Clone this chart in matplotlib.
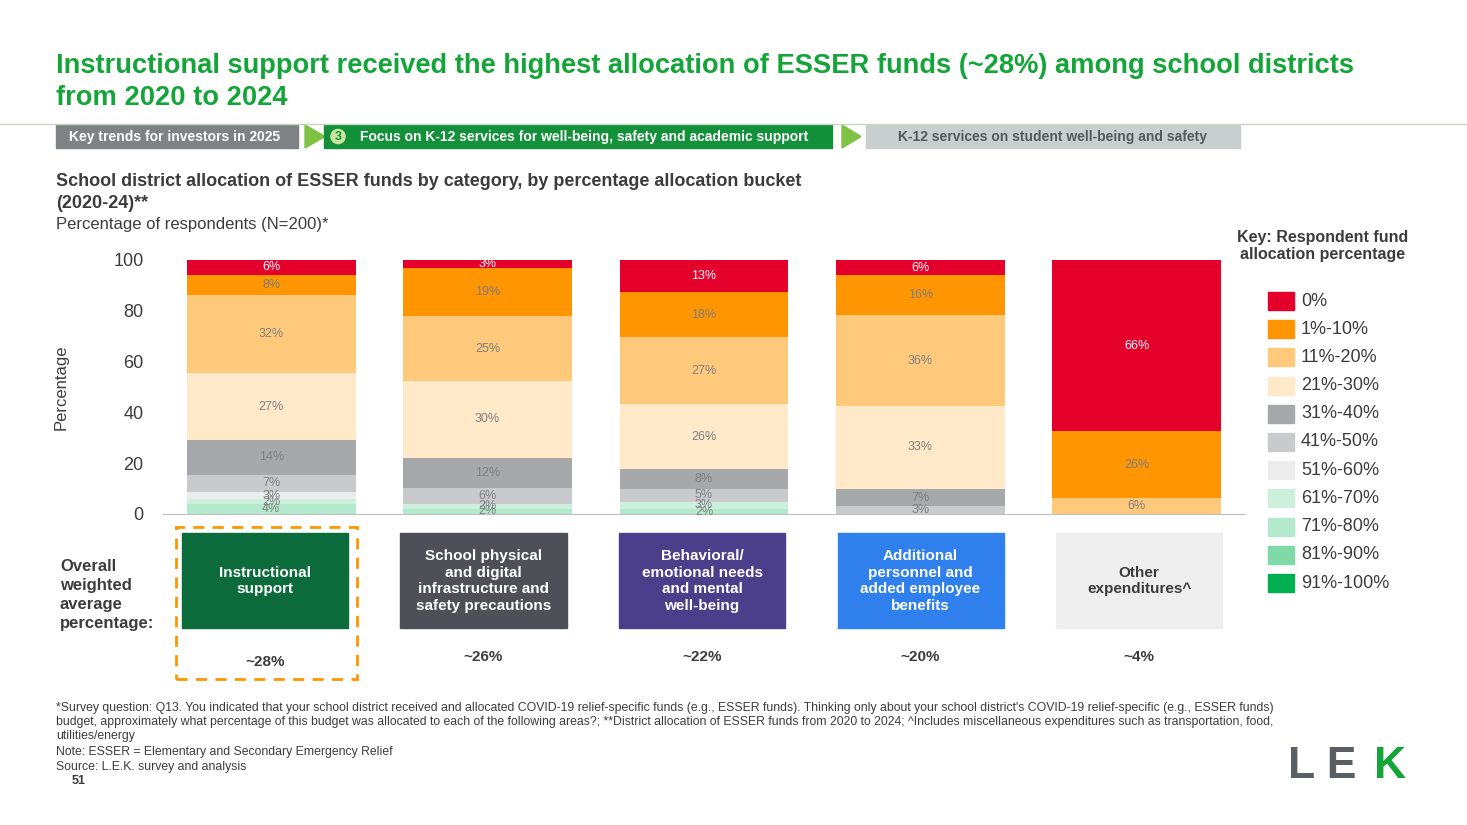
import numpy as np
import matplotlib.pyplot as plt
from matplotlib.patches import Rectangle, Polygon

W, H = 1467, 825

categories = ["Instructional\nsupport", "School physical\nand digital\ninfrastructure and\nsafety precautions",
              "Behavioral/\nemotional needs\nand mental\nwell-being", "Additional\npersonnel and\nadded employee\nbenefits",
              "Other\nexpenditures^"]
weighted_avg = ["~28%", "~26%", "~22%", "~20%", "~4%"]
buckets = ["0%", "1%-10%", "11%-20%", "21%-30%", "31%-40%", "41%-50%", "51%-60%",
           "61%-70%", "71%-80%", "81%-90%", "91%-100%"]
# values per bucket (rows follow buckets), columns follow categories
vals_0 = [6, 3, 13, 6, 66]
vals_1_10 = [8, 19, 18, 16, 26]
vals_11_20 = [32, 25, 27, 36, 6]
vals_21_30 = [27, 30, 26, 33, 0]
vals_31_40 = [14, 12, 8, 7, 0]
vals_41_50 = [7, 6, 5, 3, 0]
vals_51_60 = [3, 0, 0, 0, 0]
vals_61_70 = [2, 2, 3, 0, 0]
vals_71_80 = [4, 2, 2, 0, 0]
vals_81_90 = [0, 0, 0, 0, 0]
vals_91_100 = [0, 0, 0, 0, 0]
colors = ["#e4002b", "#ff9500", "#ffc97c", "#ffe9c9", "#a6a8aa", "#c9cacb", "#ececec",
          "#cdf0dc", "#b3e9cc", "#7fdaa8", "#00b050"]
box_colors = ["#0b6b3a", "#4d5157", "#4b3f8c", "#2f80ed", "#efefef"]

series = [vals_0, vals_1_10, vals_11_20, vals_21_30, vals_31_40, vals_41_50,
          vals_51_60, vals_61_70, vals_71_80, vals_81_90, vals_91_100]

fig = plt.figure(figsize=(W / 100, H / 100), dpi=100)
plt.rcParams['font.family'] = ['Liberation Sans', 'DejaVu Sans']


def fx(px):
    return px / W


def fy(py):
    return 1 - py / H


def ftext(px, py, s, **kw):
    fig.text(fx(px), fy(py), s, **kw)


def frect(x0, y0, x1, y1, **kw):
    fig.add_artist(Rectangle((fx(x0), fy(y1)), fx(x1 - x0), fy(y0) - fy(y1), **kw))


GREEN = "#13a538"
# title
ftext(56, 66, "Instructional support received the highest allocation of ESSER funds (~28%) among school districts",
      fontsize=19.6, weight="bold", color=GREEN, va="center")
ftext(56, 98, "from 2020 to 2024", fontsize=19.6, weight="bold", color=GREEN, va="center")
fig.add_artist(plt.Line2D([0, 1], [fy(124), fy(124)], color="#c5d6c0", lw=1))

# breadcrumb
frect(56, 125, 298, 148, color="#7f8284")
ftext(175, 136.5, "Key trends for investors in 2025", fontsize=10, weight="bold", color="white", ha="center", va="center")
fig.add_artist(Polygon([(fx(305), fy(125)), (fx(325), fy(136.5)), (fx(305), fy(148))], color="#7dc242"))
frect(324, 125, 832, 148, color="#13913a")
ftext(338, 136.5, "3", fontsize=9, weight="bold", color="#13913a", ha="center", va="center",
      bbox=dict(boxstyle="circle,pad=0.2", fc="#c8e6a0", ec="#13913a"))
ftext(584, 136.5, "Focus on K-12 services for well-being, safety and academic support", fontsize=10, weight="bold",
      color="white", ha="center", va="center")
fig.add_artist(Polygon([(fx(842), fy(125)), (fx(861), fy(136.5)), (fx(842), fy(148))], color="#7dc242"))
frect(866, 125, 1240, 148, color="#c9cfce")
ftext(1053, 136.5, "K-12 services on student well-being and safety", fontsize=10, weight="bold",
      color="#55595c", ha="center", va="center")

# subtitle
ftext(56, 182, "School district allocation of ESSER funds by category, by percentage allocation bucket",
      fontsize=13, weight="bold", color="#3c3c3c", va="center")
ftext(56, 203, "(2020-24)**", fontsize=13, weight="bold", color="#3c3c3c", va="center")
ftext(56, 225, "Percentage of respondents (N=200)*", fontsize=12, color="#3c3c3c", va="center")

# chart: each column scaled to fill 0-100 as in the source
ax = fig.add_axes([fx(163), fy(514), fx(1082), fy(260) - fy(514)])
x = np.arange(1, 6)
data = np.array(series, dtype=float)
scale = 100.0 / data.sum(axis=0)
bottom = np.zeros(5)
for vals, c in reversed(list(zip(data, colors))):
    h = vals * scale
    ax.bar(x, h, 0.78, bottom=bottom, color=c)
    for xi, vi, hi, bi in zip(x, vals, h, bottom):
        if vi > 0:
            ax.text(xi, bi + hi / 2, f"{int(vi)}%", ha="center", va="center", fontsize=9,
                    color="white" if c == "#e4002b" else "#7f7f7f")
    bottom += h
ax.set_xlim(0.5, 5.5)
ax.set_ylim(0, 100)
ax.set_yticks([0, 20, 40, 60, 80, 100])
ax.tick_params(axis="y", length=0, labelsize=13, colors="#3c3c3c", pad=14)
ax.set_xticks([])
for s in ["top", "right", "left"]:
    ax.spines[s].set_visible(False)
ax.spines["bottom"].set_color("#bfbfbf")
ax.set_ylabel("Percentage", fontsize=12, color="#3c3c3c", labelpad=32)

# category boxes
ftext(60, 595, "Overall\nweighted\naverage\npercentage:", fontsize=12, weight="bold", color="#3c3c3c",
      va="center", linespacing=1.35)
for i, (cat, avg, bc) in enumerate(zip(categories, weighted_avg, box_colors)):
    cx = 265 + i * 218.5
    frect(cx - 83, 533, cx + 83, 628, color=bc)
    ftext(cx, 581, cat, fontsize=11, weight="bold", ha="center", va="center", linespacing=1.25,
          color="#3c3c3c" if i == 4 else "white")
    ftext(cx, 662 if i == 0 else 657, avg, fontsize=11, weight="bold", color="#3c3c3c", ha="center", va="center")
frect(176, 527, 357, 679, fill=False, ec="#ff9500", lw=2, ls=(0, (4, 3)))

# legend
ftext(1323, 246, "Key: Respondent fund\nallocation percentage", fontsize=11.5, weight="bold", color="#3c3c3c",
      ha="center", va="center", linespacing=1.2)
for i, (b, c) in enumerate(zip(buckets, colors)):
    y = 301 + i * 28.2
    frect(1268, y - 9, 1294, y + 9, color=c)
    ftext(1301, y, b, fontsize=13, color="#3c3c3c", va="center")

# footnotes
notes = [(708, "*Survey question: Q13. You indicated that your school district received and allocated COVID-19 relief-specific funds (e.g., ESSER funds). Thinking only about your school district's COVID-19 relief-specific (e.g., ESSER funds)"),
         (722, "budget, approximately what percentage of this budget was allocated to each of the following areas?; **District allocation of ESSER funds from 2020 to 2024; ^Includes miscellaneous expenditures such as transportation, food,"),
         (736, "utilities/energy"),
         (752, "Note: ESSER = Elementary and Secondary Emergency Relief"),
         (767, "Source: L.E.K. survey and analysis")]
for py, s in notes:
    ftext(56, py, s, fontsize=8.8, color="#3c3c3c", va="center")
ftext(72, 781, "51", fontsize=9, weight="bold", color="#3c3c3c", va="center")
ftext(1288, 766, "L E", fontsize=32, weight="bold", color="#5a5f63", va="center")
ftext(1374, 766, "K", fontsize=32, weight="bold", color="#13a538", va="center")

fig.savefig("out.png", dpi=100)
